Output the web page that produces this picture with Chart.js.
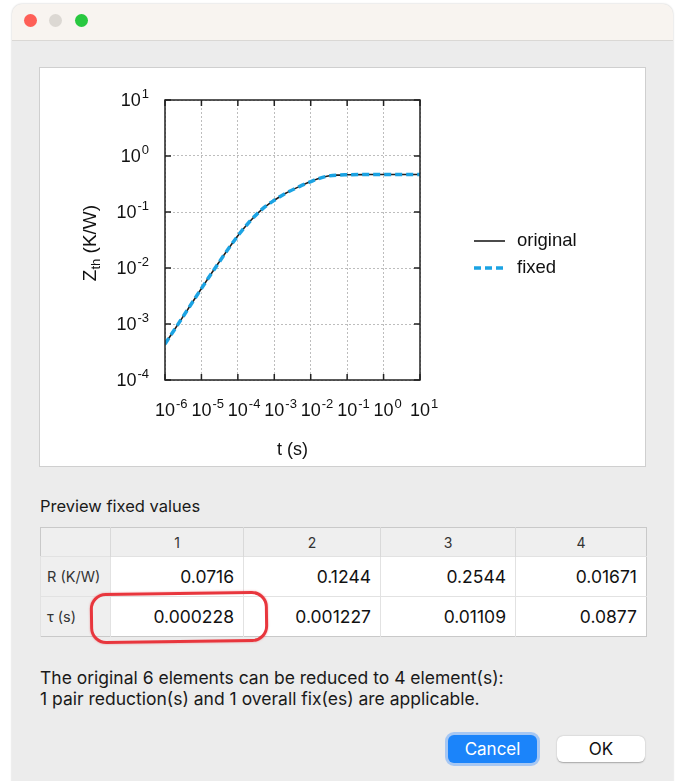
<!DOCTYPE html>
<html>
<head>
<meta charset="utf-8">
<script src="https://cdn.jsdelivr.net/npm/chart.js@4"></script>
<style>
  body { margin: 0; width: 677px; height: 781px; background: #fff; position: relative; overflow: hidden; font-family: Inter, "Liberation Sans", sans-serif; }
  .window { position: absolute; left: 12px; top: 4px; width: 661px; height: 790px; background: #ececec; border-radius: 10px; box-shadow: 0 0 2px rgba(0,0,0,0.25); overflow: hidden; }
  .titlebar { position: absolute; left: 0; top: 0; width: 100%; height: 36px; background: #f8f4f0; border-bottom: 1px solid #dad8d5; }
  .dot { position: absolute; top: 10px; width: 13px; height: 13px; border-radius: 50%; }
  .panel { position: absolute; left: 39px; top: 67px; width: 605px; height: 398px; background: #fff; border: 1px solid #cfcfcf; }
  .panel canvas { display: block; }
  .caption { position: absolute; left: 40px; top: 496px; font-size: 16.5px; color: #1a1a1a; }
  table { position: absolute; left: 40px; top: 527px; border-collapse: collapse; border: 1px solid #c9c9c9; font-size: 17.5px; }
  th { height: 28px; background: #efefef; font-weight: normal; font-size: 14px; color: #333; text-align: center; border-left: 1px solid #d9d9d9; padding: 0; }
  td { height: 39px; background: #fff; text-align: right; padding: 0 9px 0 0; border-left: 1px solid #e2e2e2; border-top: 1px solid #e2e2e2; color: #111; white-space: nowrap; }
  td.rowhead { background: #efefef; text-align: left; padding-left: 6px; padding-right: 0; font-size: 14.5px; color: #333; }
  .mark { position: absolute; left: 90px; top: 592px; width: 172px; height: 45px; border: 3px solid #e8363d; border-radius: 16px; transform: rotate(-0.8deg); box-shadow: 0 0 2px rgba(232,54,61,0.5); }
  .note { position: absolute; left: 40px; top: 667px; font-size: 17.5px; line-height: 21px; color: #1a1a1a; }
  .btn { position: absolute; border-radius: 6px; font-size: 17px; text-align: center; }
  .cancel { left: 448px; top: 735px; width: 89px; height: 28px; line-height: 28px; background: #1b84fa; color: #fff; box-shadow: 0 0 0 3px rgba(110,170,250,0.55); }
  .ok { left: 557px; top: 736px; width: 88px; height: 26px; line-height: 26px; background: #fff; color: #111; box-shadow: 0 0.5px 1.5px rgba(0,0,0,0.3); }
</style>
</head>
<body>
<div class="window">
  <div class="titlebar">
    <div class="dot" style="left:12px;background:#fe5f57"></div>
    <div class="dot" style="left:37px;background:#dcd8d3"></div>
    <div class="dot" style="left:63px;background:#28c840"></div>
  </div>
</div>
<div class="panel"><canvas id="zth-chart" width="605" height="398"></canvas></div>
<div class="caption">Preview fixed values</div>
<table id="fix-table"></table>
<div class="mark"></div>
<div class="note">The original 6 elements can be reduced to 4 element(s):<br>1 pair reduction(s) and 1 overall fix(es) are applicable.</div>
<div class="btn cancel">Cancel</div>
<div class="btn ok">OK</div>

<script>
// time points (s)
var tValues = [1e-6, 3e-6, 1e-5, 3e-5, 1e-4, 2e-4, 5e-4, 1e-3, 2e-3, 5e-3, 1e-2, 2e-2, 3e-2, 5e-2, 1e-1, 3e-1, 1, 10];
// Zth (K/W) for both curves, they overlap
var zOriginal = [0.00044, 0.0013, 0.0043, 0.0125, 0.0375, 0.065, 0.117, 0.162, 0.214, 0.287, 0.349, 0.412, 0.438, 0.455, 0.462, 0.466, 0.467, 0.467];
var zFixed = [0.00044, 0.0013, 0.0043, 0.0125, 0.0375, 0.065, 0.117, 0.162, 0.214, 0.287, 0.349, 0.412, 0.438, 0.455, 0.462, 0.466, 0.467, 0.467];
var seriesNames = ["original", "fixed"];
var xExponents = [-6, -5, -4, -3, -2, -1, 0, 1];
var yExponents = [-4, -3, -2, -1, 0, 1];

var elements = ["1", "2", "3", "4"];
var rValues = ["0.0716", "0.1244", "0.2544", "0.01671"];
var tauValues = ["0.000228", "0.001227", "0.01109", "0.0877"];

// table
var colWidths = [69, 132, 136, 134, 130];
var html = "<tr><th style='width:" + colWidths[0] + "px;border-left:none'></th>";
elements.forEach(function (e, i) {
  html += "<th style='width:" + colWidths[i + 1] + "px'>" + e + "</th>";
});
html += "</tr><tr><td class='rowhead'>R (K/W)</td>";
rValues.forEach(function (v) { html += "<td>" + v + "</td>"; });
html += "</tr><tr><td class='rowhead'>τ (s)</td>";
tauValues.forEach(function (v) { html += "<td>" + v + "</td>"; });
html += "</tr>";
document.getElementById("fix-table").innerHTML = html;

var chartFont = '"Liberation Sans", Arial, sans-serif';

function drawPower(ctx, exp, x, y, align) {
  ctx.font = "18px " + chartFont;
  var bw = ctx.measureText("10").width;
  ctx.font = "13px " + chartFont;
  var ew = ctx.measureText(String(exp)).width;
  var start = align === "right" ? x - bw - ew : x - bw / 2;
  ctx.textAlign = "left";
  ctx.textBaseline = "alphabetic";
  ctx.font = "18px " + chartFont;
  ctx.fillText("10", start, y);
  ctx.font = "13px " + chartFont;
  ctx.fillText(String(exp), start + bw + 1, y - 8);
}

var decorPlugin = {
  id: "decor",
  afterDraw: function (chart) {
    var ctx = chart.ctx;
    var a = chart.chartArea;
    var xs = chart.scales.x;
    var ys = chart.scales.y;
    ctx.save();
    // frame and inward ticks
    ctx.strokeStyle = "#222";
    ctx.lineWidth = 1.5;
    ctx.strokeRect(a.left, a.top, a.right - a.left, a.bottom - a.top);
    ctx.beginPath();
    xExponents.forEach(function (e) {
      var px = xs.getPixelForValue(Math.pow(10, e));
      ctx.moveTo(px, a.bottom); ctx.lineTo(px, a.bottom - 6);
      ctx.moveTo(px, a.top); ctx.lineTo(px, a.top + 6);
    });
    yExponents.forEach(function (e) {
      var py = ys.getPixelForValue(Math.pow(10, e));
      ctx.moveTo(a.left, py); ctx.lineTo(a.left + 6, py);
      ctx.moveTo(a.right, py); ctx.lineTo(a.right - 6, py);
    });
    ctx.stroke();

    // tick labels
    ctx.fillStyle = "#111";
    xExponents.forEach(function (e) {
      drawPower(ctx, e, xs.getPixelForValue(Math.pow(10, e)), a.bottom + 36, "center");
    });
    yExponents.forEach(function (e) {
      drawPower(ctx, e, a.left - 17, ys.getPixelForValue(Math.pow(10, e)) + 6, "right");
    });

    // x title
    ctx.font = "18px " + chartFont;
    ctx.textAlign = "center";
    ctx.textBaseline = "middle";
    ctx.fillText("t (s)", (a.left + a.right) / 2, a.bottom + 70);

    // y title with subscript
    ctx.save();
    ctx.translate(49, 175);
    ctx.rotate(-Math.PI / 2);
    ctx.textAlign = "left";
    ctx.textBaseline = "alphabetic";
    ctx.font = "19px " + chartFont;
    var wZ = ctx.measureText("Z").width;
    var wRest = ctx.measureText(" (K/W)").width;
    ctx.font = "13px " + chartFont;
    var wSub = ctx.measureText("th").width;
    var sx = -(wZ + wSub + wRest) / 2;
    ctx.font = "19px " + chartFont;
    ctx.fillText("Z", sx, 7);
    ctx.font = "13px " + chartFont;
    ctx.fillText("th", sx + wZ, 11);
    ctx.font = "19px " + chartFont;
    ctx.fillText(" (K/W)", sx + wZ + wSub, 7);
    ctx.restore();

    // legend
    var ly = [173, 200];
    chart.data.datasets.forEach(function (ds, i) {
      ctx.save();
      ctx.strokeStyle = ds.borderColor;
      ctx.lineWidth = ds.borderWidth;
      ctx.setLineDash(ds.borderDash || []);
      ctx.beginPath();
      ctx.moveTo(434, ly[i]);
      ctx.lineTo(465, ly[i]);
      ctx.stroke();
      ctx.restore();
      ctx.fillStyle = "#111";
      ctx.font = "18.5px " + chartFont;
      ctx.textAlign = "left";
      ctx.textBaseline = "middle";
      ctx.fillText(ds.label, 477, ly[i]);
    });
    ctx.restore();
  },
};

function toPoints(ys) {
  return tValues.map(function (t, i) { return { x: t, y: ys[i] }; });
}

function decadeTicks(exps) {
  return function (scale) {
    scale.ticks = exps.map(function (e) { return { value: Math.pow(10, e) }; });
  };
}

var ctx = document.getElementById("zth-chart").getContext("2d");
var zthChart = new Chart(ctx, {
  type: "line",
  data: {
    datasets: [
      {
        label: seriesNames[0],
        data: toPoints(zOriginal),
        borderColor: "#1e1e1e",
        borderWidth: 1.6,
        pointRadius: 0,
        cubicInterpolationMode: "monotone",
        order: 1,
      },
      {
        label: seriesNames[1],
        data: toPoints(zFixed),
        borderColor: "#1ba3e3",
        borderWidth: 3.5,
        borderDash: [7, 4],
        pointRadius: 0,
        cubicInterpolationMode: "monotone",
        order: 0,
      },
    ],
  },
  options: {
    responsive: false,
    animation: false,
    layout: { padding: { left: 125, right: 225, top: 32, bottom: 86 } },
    plugins: { legend: { display: false }, tooltip: { enabled: false } },
    scales: {
      x: {
        type: "logarithmic",
        min: 1e-6,
        max: 10,
        afterBuildTicks: decadeTicks(xExponents),
        ticks: { display: false },
        grid: { color: "#bdbdbd", drawTicks: false, lineWidth: 1 },
        border: { display: false, dash: [2, 2] },
      },
      y: {
        type: "logarithmic",
        min: 1e-4,
        max: 10,
        afterBuildTicks: decadeTicks(yExponents),
        ticks: { display: false },
        grid: { color: "#bdbdbd", drawTicks: false, lineWidth: 1 },
        border: { display: false, dash: [2, 2] },
      },
    },
  },
  plugins: [decorPlugin],
});
</script>
</body>
</html>
